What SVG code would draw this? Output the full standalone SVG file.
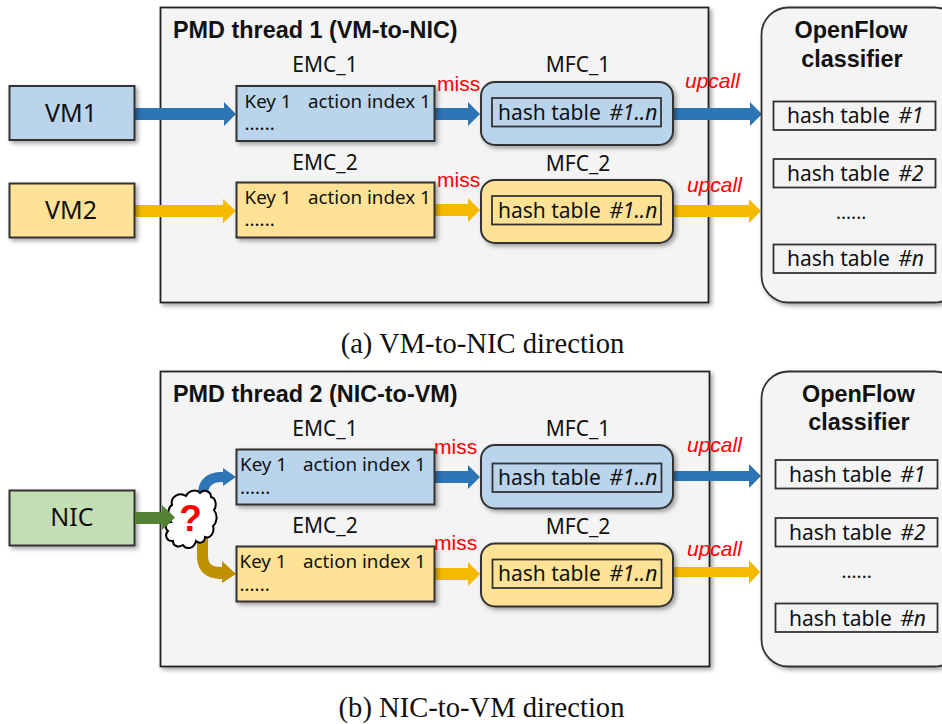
<svg xmlns="http://www.w3.org/2000/svg" width="942" height="724" viewBox="0 0 942 724">
<style>
text{font-family:"Noto Sans","Open Sans",sans-serif;fill:#111}
.st{stroke:#333;stroke-width:2}
.blue{fill:#bad4ec}.yel{fill:#ffe296}.grn{fill:#c3deb2}
.panel{fill:#f4f4f4;stroke:#222;stroke-width:1.800}
.ht{fill:none;stroke:#333;stroke-width:1.800}
.wt{fill:#f4f4f4;stroke:#333;stroke-width:1.800}
.lb{font-size:21px}
.big{font-size:25px}
.sm{font-size:18.800px}
.hd{font-family:"Liberation Sans",Arial,sans-serif;font-weight:700;font-size:23.400px}
.rd{font-family:"Liberation Sans",Arial,sans-serif;font-size:21px;fill:#f00}
.up{font-style:italic}
.cap{font-family:"Liberation Serif","Times New Roman",serif;font-size:28.600px}
.ab{fill:#2e75b6}.ay{fill:#f5ba00}.ag{fill:#548235}.ao{fill:#bf9000}
</style>
<defs>
<filter id="sh" x="-10%" y="-10%" width="125%" height="130%"><feDropShadow dx="2.500" dy="2.500" stdDeviation="2" flood-color="#000" flood-opacity=".35"/></filter>
</defs>
<g id="panel-a">
<rect class="panel" x="160.500" y="7.500" width="548" height="295" filter="url(#sh)"/>
<text class="hd" x="173" y="38">PMD thread 1 (VM-to-NIC)</text>
</g>
<g id="panel-b">
<rect class="panel" x="160.500" y="371.500" width="549" height="295" filter="url(#sh)"/>
<text class="hd" x="173" y="402">PMD thread 2 (NIC-to-VM)</text>
</g>
<g id="connectors">
<path class="ab" d="M134 108H224V102L236 114L224 126V120H134Z"/>
<path class="ay" d="M134 205H223V199L236 211L223 223V217H134Z"/>
<path class="ab" d="M434 108H468V102L480 114L468 126V120H434Z"/>
<path class="ay" d="M434 204H468V198L480 210L468 222V216H434Z"/>
<path class="ab" d="M672 108H750V102L762 114L750 126V120H672Z"/>
<path class="ay" d="M672 205H749V199L761 211L749 223V217H672Z"/>
<path class="ab" d="M198 495C198 480 206 472 223 472V468L236 477L223 486V482C212 482 208 486 208 495Z"/>
<path class="ao" d="M197 535H208V556C208 564 212 567 222 567V561L236 574L222 583V579C205 579 197 570 197 556Z"/>
<path class="ab" d="M435 471H468V465L480 477L468 489V483H435Z"/>
<path class="ay" d="M435 568H468V562L480 574L468 586V580H435Z"/>
<path class="ab" d="M673 471H749V464L761 476L749 488V481H673Z"/>
<path class="ay" d="M673 567H749V560L760 572L749 584V577H673Z"/>
</g>
<g id="vm1"><rect class="blue st" x="9.500" y="86" width="125" height="54" filter="url(#sh)"/><text class="big" x="71" y="122" text-anchor="middle">VM1</text></g>
<g id="vm2"><rect class="yel st" x="9.500" y="183.500" width="125" height="54" filter="url(#sh)"/><text class="big" x="71" y="219" text-anchor="middle">VM2</text></g>
<g id="nic"><rect class="grn st" x="9.500" y="490.500" width="125" height="55" filter="url(#sh)"/><text class="big" x="72" y="526" text-anchor="middle">NIC</text></g>

<g id="emc1a"><text class="lb" x="325" y="72" text-anchor="middle">EMC_1</text><rect class="blue st" x="236.500" y="86" width="198" height="55" filter="url(#sh)"/><text class="sm" x="244.500" y="108">Key 1</text><text class="sm" x="308" y="108">action index 1</text><text class="sm" x="244.500" y="130">......</text></g>
<g id="emc2a"><text class="lb" x="325" y="170" text-anchor="middle">EMC_2</text><rect class="yel st" x="236.500" y="182.500" width="198" height="55" filter="url(#sh)"/><text class="sm" x="244.500" y="204">Key 1</text><text class="sm" x="308" y="204">action index 1</text><text class="sm" x="244.500" y="226">......</text></g>
<g id="mfc1a"><text class="lb" x="578" y="72" text-anchor="middle">MFC_1</text><rect class="blue st" x="481" y="82" width="192" height="63" rx="14" filter="url(#sh)"/><rect class="ht" x="492" y="98" width="169" height="28.500"/><text class="lb" x="498" y="120">hash table <tspan class="up" dx="3">#1..n</tspan></text></g>
<g id="mfc2a"><text class="lb" x="578" y="171" text-anchor="middle">MFC_2</text><rect class="yel st" x="481" y="180" width="192" height="63" rx="14" filter="url(#sh)"/><rect class="ht" x="492" y="196" width="169" height="28.500"/><text class="lb" x="498" y="218">hash table <tspan class="up" dx="3">#1..n</tspan></text></g>
<g id="labels-a">
<text class="rd" x="437" y="91">miss</text><text class="rd" x="437" y="187">miss</text>
<text class="rd up" x="685" y="88">upcall</text><text class="rd up" x="687" y="192">upcall</text>
</g>
<g id="openflow-a">
<rect class="wt" x="761.500" y="7.500" width="200" height="295" rx="27" filter="url(#sh)"/>
<text class="hd" x="851" y="38" text-anchor="middle">OpenFlow</text><text class="hd" x="852" y="67" text-anchor="middle">classifier</text>
<rect class="ht" x="773.500" y="101.500" width="162" height="28.500"/><text class="lb" x="787" y="123">hash table <tspan class="up" dx="3">#1</tspan></text>
<rect class="ht" x="773.500" y="159" width="162" height="28.500"/><text class="lb" x="787" y="181">hash table <tspan class="up" dx="3">#2</tspan></text>
<text class="sm" x="836" y="219">......</text>
<rect class="ht" x="773.500" y="244.500" width="162" height="28.500"/><text class="lb" x="787" y="266">hash table <tspan class="up" dx="3">#n</tspan></text>
</g>
<text class="cap" x="482.500" y="353" text-anchor="middle">(a) VM-to-NIC direction</text>

<g id="emc1b"><text class="lb" x="325" y="436" text-anchor="middle">EMC_1</text><rect class="blue st" x="236.500" y="449.500" width="198" height="55" filter="url(#sh)"/><text class="sm" x="240" y="471">Key 1</text><text class="sm" x="303" y="471">action index 1</text><text class="sm" x="240" y="494">......</text></g>
<g id="emc2b"><text class="lb" x="325" y="533" text-anchor="middle">EMC_2</text><rect class="yel st" x="236.500" y="546.500" width="198" height="55" filter="url(#sh)"/><text class="sm" x="239.500" y="568">Key 1</text><text class="sm" x="303" y="568">action index 1</text><text class="sm" x="239.500" y="591">......</text></g>
<g id="mfc1b"><text class="lb" x="578" y="436" text-anchor="middle">MFC_1</text><rect class="blue st" x="481" y="445" width="192" height="63.500" rx="14" filter="url(#sh)"/><rect class="ht" x="492.500" y="463.500" width="169" height="28.500"/><text class="lb" x="498" y="485">hash table <tspan class="up" dx="3">#1..n</tspan></text></g>
<g id="mfc2b"><text class="lb" x="578" y="534" text-anchor="middle">MFC_2</text><rect class="yel st" x="481" y="543.500" width="192" height="63" rx="14" filter="url(#sh)"/><rect class="ht" x="492.500" y="559.500" width="169" height="28.500"/><text class="lb" x="498" y="581">hash table <tspan class="up" dx="3">#1..n</tspan></text></g>
<g id="labels-b">
<text class="rd" x="434" y="454">miss</text><text class="rd" x="434" y="550">miss</text>
<text class="rd up" x="687" y="452">upcall</text><text class="rd up" x="687" y="556">upcall</text>
</g>
<g id="openflow-b">
<rect class="wt" x="761.500" y="371.500" width="200" height="295" rx="27" filter="url(#sh)"/>
<text class="hd" x="858.500" y="402" text-anchor="middle">OpenFlow</text><text class="hd" x="859" y="430" text-anchor="middle">classifier</text>
<rect class="ht" x="775.500" y="460" width="162" height="28.500"/><text class="lb" x="789" y="482">hash table <tspan class="up" dx="3">#1</tspan></text>
<rect class="ht" x="775.500" y="518" width="162" height="28.500"/><text class="lb" x="789" y="540">hash table <tspan class="up" dx="3">#2</tspan></text>
<text class="sm" x="841.500" y="578">......</text>
<rect class="ht" x="775.500" y="603.500" width="162" height="28.500"/><text class="lb" x="789" y="626">hash table <tspan class="up" dx="3">#n</tspan></text>
</g>
<g id="cloud">
<path fill="#fff" stroke="#000" stroke-width="2" d="M172 505C170 496 180 492 186 496C189 490 197 489 200 493C204 489 211 491 211 497C216 498 217 506 214 510C218 515 217 523 213 526C215 533 210 539 205 537C205 543 199 544 196 541C194 549 186 550 183 545C178 548 173 546 173 541C167 542 164 535 168 531C164 528 166 522 171 522C167 516 168 507 172 505Z"/>
<text x="190.500" y="531" text-anchor="middle" style="font-family:'Liberation Sans',Arial,sans-serif;font-weight:700;font-size:37px;fill:#f00">?</text>
</g>
<g id="nic-arrow"><path class="ag" d="M135 512H162V505L175 517.500L162 530V524H135Z"/></g>
<text class="cap" x="481.500" y="717" text-anchor="middle">(b) NIC-to-VM direction</text>
</svg>
